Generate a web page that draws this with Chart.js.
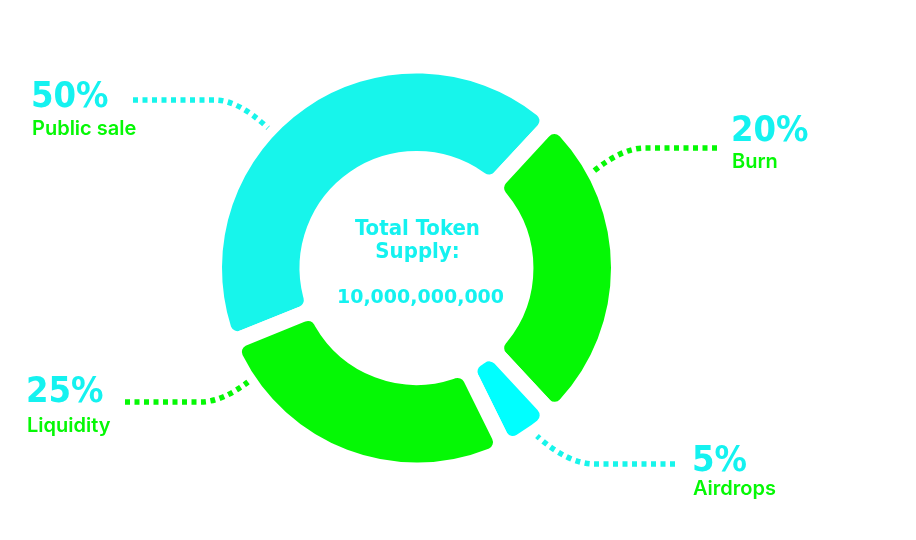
<!DOCTYPE html>
<html><head><meta charset="utf-8">
<script src="https://cdn.jsdelivr.net/npm/chart.js@4/dist/chart.umd.min.js"></script>
<style>html,body{margin:0;padding:0;background:#fff}#wrap{width:916px;height:540px;position:relative}</style>
</head><body><div id="wrap"><canvas id="c" width="916" height="540"></canvas></div>
<script>
// ---- data ----
const categories = ['Public sale', 'Burn', 'Airdrops', 'Liquidity'];
const shareLabels = ['50%', '20%', '5%', '25%'];
const sliceValues = [43, 26.2, 4.6, 26.2];   // arc sizes as drawn in the picture
const centerLines = ['Total Token', 'Supply:'];
const totalSupply = '10,000,000,000';

// ---- styles / layout ----
const CYAN = '#17F5EB', CYAN2 = '#00FFFF', GREEN = '#05F805', TXT_CYAN = '#14F2F0';
const sliceColors = [CYAN, GREEN, CYAN2, GREEN];
const callouts = [
  { line: CYAN,  start: [268,128], ctrl: [238,100], elbow: [215,100], end: [133,100], pct: [31,107],  name: [32,135] },
  { line: GREEN, start: [594,171], ctrl: [622,148], elbow: [645,148], end: [717,148], pct: [731,141], name: [732,168] },
  { line: CYAN,  start: [537,436], ctrl: [568,464], elbow: [595,464], end: [675,464], pct: [692,471], name: [693,495] },
  { line: GREEN, start: [248,382], ctrl: [222,402], elbow: [200,402], end: [125,402], pct: [26,402],  name: [27,432] }
];

const overlay = {
  id: 'overlay',
  afterDraw(chart) {
    const ctx = chart.ctx;
    const arc = chart.getDatasetMeta(0).data[0];
    const cx = arc.x;
    ctx.save();
    // leader lines
    callouts.forEach(c => {
      ctx.beginPath();
      ctx.setLineDash([5, 4.5]);
      ctx.lineWidth = 5.5;
      ctx.lineCap = 'butt';
      ctx.strokeStyle = c.line;
      ctx.moveTo(c.end[0], c.end[1]);
      ctx.lineTo(c.elbow[0], c.elbow[1]);
      ctx.quadraticCurveTo(c.ctrl[0], c.ctrl[1], c.start[0], c.start[1]);
      ctx.stroke();
    });
    ctx.setLineDash([]);
    // labels
    ctx.textAlign = 'left';
    ctx.textBaseline = 'alphabetic';
    callouts.forEach((c, i) => {
      ctx.fillStyle = TXT_CYAN;
      ctx.font = 'bold 36px "DejaVu Sans Condensed", "DejaVu Sans"';
      ctx.fillText(shareLabels[i], c.pct[0], c.pct[1]);
      ctx.fillStyle = GREEN;
      ctx.font = '600 20px Inter';
      ctx.fillText(categories[i], c.name[0], c.name[1]);
    });
    // center text
    ctx.textAlign = 'center';
    ctx.fillStyle = TXT_CYAN;
    ctx.font = 'bold 22px "DejaVu Sans Condensed", "DejaVu Sans"';
    ctx.fillText(centerLines[0], cx + 1, 235);
    ctx.fillText(centerLines[1], cx + 1, 258);
    ctx.font = 'bold 19px "DejaVu Sans"';
    ctx.fillText(totalSupply, cx + 4, 303);
    ctx.restore();
  }
};

new Chart(document.getElementById('c'), {
  type: 'doughnut',
  data: {
    labels: categories,
    datasets: [{
      data: sliceValues,
      backgroundColor: sliceColors,
      borderColor: '#ffffff',
      borderWidth: 16,
      borderRadius: 15,
      borderJoinStyle: 'round'
    }]
  },
  options: {
    responsive: false,
    animation: false,
    events: [],
    rotation: 248,
    radius: 202.5,
    cutout: '53.8%',
    layout: { padding: { left: 0, right: 83, top: 0, bottom: 4 } },
    plugins: { legend: { display: false }, tooltip: { enabled: false } }
  },
  plugins: [overlay]
});
</script>
</body></html>
